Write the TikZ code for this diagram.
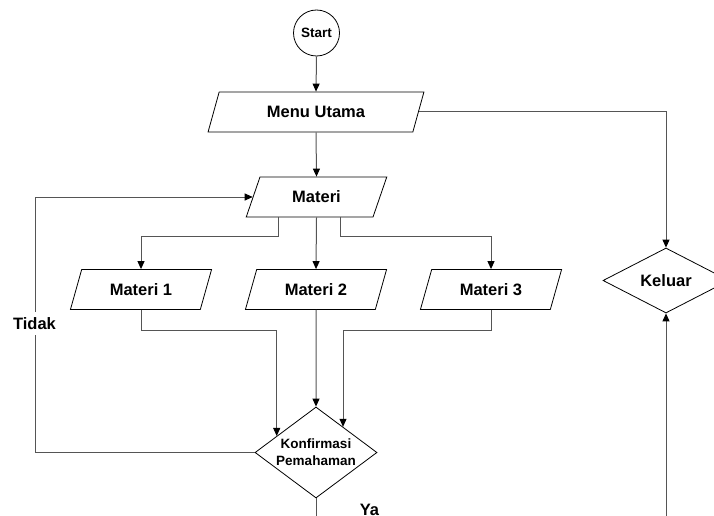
\documentclass[tikz,border=0pt]{standalone}
\usepackage{fontspec}
\setmainfont{Liberation Sans}
\usetikzlibrary{shapes.geometric,arrows.meta,calc}
\definecolor{conncol}{RGB}{85,85,85}
\tikzset{
  para/.style={trapezium, trapezium left angle=64, trapezium right angle=116,
    trapezium stretches=true, draw=black, line width=0.8pt, inner sep=0pt,
    minimum height=40pt, minimum width=142pt, font=\fontsize{16.5}{19}\selectfont\bfseries},
  dec/.style={diamond, draw=black, line width=0.8pt, inner sep=0pt},
  conn/.style={draw=conncol, line width=1pt},
  arr/.style={conn, -{Triangle[length=8pt,width=7pt,color=black]}},
  lbl/.style={font=\fontsize{16.5}{19}\selectfont\bfseries, inner sep=1pt}
}
\begin{document}
\begin{tikzpicture}[x=1pt,y=-1pt]
\useasboundingbox (0,0) rectangle (714,516);
\node[circle, draw=black, line width=0.8pt, minimum size=46pt, inner sep=0pt,
  font=\fontsize{13.5}{15}\selectfont\bfseries] (start) at (316.5,33) {Start};
\node[para, minimum width=216pt] (menu) at (316,112) {Menu Utama};
\node[para, minimum width=141pt] (materi) at (316.5,197) {Materi};
\node[para] (m1) at (141,289.5) {Materi 1};
\node[para] (m2) at (316,289.5) {Materi 2};
\node[para] (m3) at (491,289.5) {Materi 3};
\node[dec, minimum width=122pt, minimum height=91pt, aspect=1.34,
  font=\fontsize{13.5}{17}\selectfont\bfseries, align=center] (konf) at (316,452.5)
  {Konfirmasi\\Pemahaman};
\node[dec, minimum width=126pt, minimum height=65pt, aspect=1.94,
  font=\fontsize{16.5}{19}\selectfont\bfseries] (kel) at (666,280.5) {Keluar};
\coordinate (lt) at (35,0);
\coordinate (kb) at (666,516);
\coordinate (kl) at ($(konf.west)!0.36!(konf.north)$);
\coordinate (kr) at ($(konf.north)!0.44!(konf.east)$);

\draw[arr] (start.south) -- (menu.north);
\draw[arr] (menu.south) -- (materi.north);
\draw[arr] ([xshift=-38pt]materi.south) -- ++(0,19) -| (m1.north);
\draw[arr] (materi.south) -- (m2.north);
\draw[arr] ([xshift=24pt]materi.south) -- ++(0,19) -| (m3.north);
\draw[arr] (m1.south) -- ++(0,21) -| (kl);
\draw[arr] (m2.south) -- (konf.north);
\draw[arr] (m3.south) -- ++(0,21) -| (kr);
\draw[arr] (konf.west) -- (konf.west -| lt) -- (materi.west -| lt) -- (materi.west);
\draw[conn] (konf.south) -- (konf.south |- kb);
\draw[arr] (menu.east) -| (kel.north);
\draw[arr] (kb) -- (kel.south);

\node[lbl, fill=white, inner ysep=5pt] (tidak) at (34.5,323.5) {Tidak};
\node[lbl] (ya) at (369.5,510) {Ya};
\end{tikzpicture}
\end{document}
